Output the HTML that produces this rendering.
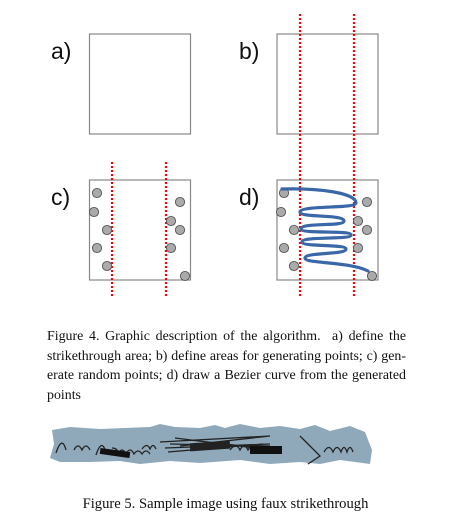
<!DOCTYPE html>
<html><head><meta charset="utf-8"><style>
html,body{margin:0;padding:0;background:#fff;width:451px;height:526px;overflow:hidden;position:relative}
.cap{position:absolute;font-family:"Liberation Serif",serif;font-size:14.6px;color:#111;line-height:19.5px}
.ln{text-align:justify;text-align-last:justify;white-space:nowrap;height:19.5px;font-size:13.9px}
</style></head><body>
<svg width="451" height="310" style="position:absolute;left:0;top:0">
<g font-family="Liberation Sans, sans-serif" font-size="23" fill="#111">
<text x="51" y="59">a)</text>
<text x="239" y="59">b)</text>
<text x="51" y="205">c)</text>
<text x="239" y="205">d)</text>
</g>
<g fill="none" stroke="#888" stroke-width="1.2">
<rect x="89.5" y="34" width="101" height="100"/>
<rect x="277" y="34" width="101" height="100"/>
<rect x="89.5" y="180" width="101" height="100"/>
<rect x="277" y="180" width="101" height="100"/>
</g>
<g stroke="#f00" stroke-width="2.2" stroke-dasharray="2,2">
<line x1="300" y1="14" x2="300" y2="298"/>
<line x1="354" y1="14" x2="354" y2="298"/>
<line x1="112" y1="162" x2="112" y2="298"/>
<line x1="166" y1="162" x2="166" y2="298"/>
</g>
<g id="pts" fill="#aaa" stroke="#555" stroke-width="0.9"></g>
<path fill="none" stroke="#3a67a8" stroke-width="3.2" stroke-linecap="round"
d="M282,189 C320,188 356,193 356,203 C356,209 300,205 300,212 C300,218 344,214 344,221 C344,227 301,222 301,229 C301,234 351,230 351,235 C351,240 302,236 302,242 C302,247 346,244 346,249 C346,255 305,252 305,258 C305,264 348,261 368,271"/>
</svg>
<script>
const ptsX=[97,94,107,97,107,180,171,180,171,185];
const ptsY=[193,212,230,248,266,202,221,230,248,276];
const g=document.getElementById('pts');
[0,187].forEach(function(off,k){
ptsX.forEach(function(x,i){
const c=document.createElementNS('http://www.w3.org/2000/svg','circle');
c.setAttribute('cx',x+off);c.setAttribute('cy',ptsY[i]);c.setAttribute('r',4.6);


g.appendChild(c);});});
</script>
<div class="cap" style="left:47px;top:327px;width:359px">
<div class="ln">Figure 4. Graphic description of the algorithm.&nbsp; a) define the</div>
<div class="ln">strikethrough area; b) define areas for generating points; c) gen-</div>
<div class="ln">erate random points; d) draw a Bezier curve from the generated</div>
<div style="font-size:13.9px">points</div>
</div>
<svg width="451" height="60" style="position:absolute;left:0;top:420px">
<polygon fill="#8fa9bb" points="52,10 70,7 100,9 125,8 150,7 160,4 175,7 200,8 215,5 225,8 240,4 260,8 280,6 300,9 315,5 330,11 350,6 365,12 372,30 370,44 340,40 320,44 300,42 270,44 240,40 200,43 170,41 140,44 120,41 90,42 60,42 50,38 54,24"/>
<g stroke="#222" stroke-width="1.3" fill="none">
<path d="M56,33 q6,-18 10,-3 M74,30 q4,-8 8,0 q4,-8 8,0 M96,35 q6,-18 10,-2 M112,28 q6,0 6,6 q4,-8 8,0 q4,-8 8,0 q4,-6 8,0 q4,-6 8,0 M142,29 q5,-7 8,0 q3,-7 6,0 M300,16 l20,20 l-12,8 M324,32 q5,-9 9,0 q4,-9 8,0 q3,-9 6,0 q3,-9 6,0 M230,30 q6,-8 10,0 q4,-8 8,0 q5,-8 9,0"/>
<path d="M160,22 l110,-6 M165,28 l105,-4 M170,24 l100,2 M168,32 l95,-8 M175,18 l80,10 M180,26 l90,-10 M190,20 l70,8"/>
</g>
<rect fill="#111" x="100" y="30" width="30" height="6" transform="rotate(8 115 33)"/>
<rect fill="#111" x="250" y="26" width="32" height="8"/>
<rect fill="#222" x="190" y="22" width="40" height="8" transform="rotate(-4 210 26)"/>
</svg>
<div class="cap" style="left:0;top:495px;width:451px;text-align:center">Figure 5. Sample image using faux strikethrough</div>
</body></html>
